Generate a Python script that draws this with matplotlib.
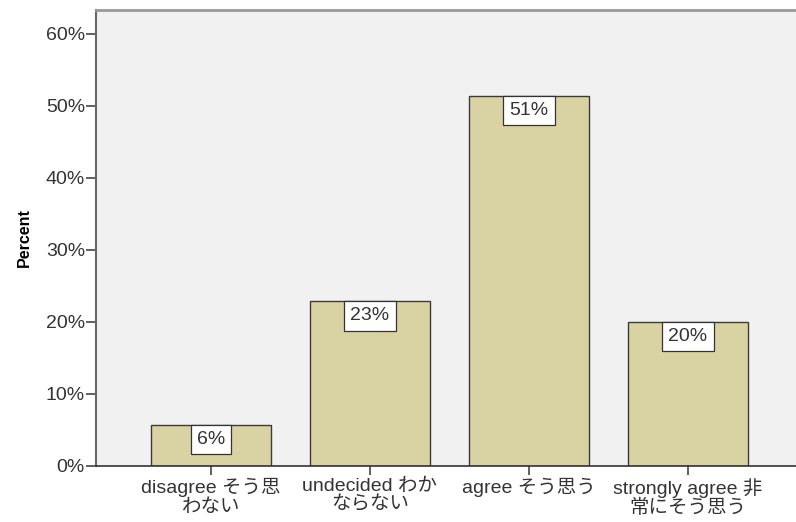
import matplotlib
matplotlib.use("Agg")
import matplotlib.pyplot as plt
from matplotlib.ticker import FuncFormatter, MultipleLocator

categories = ["disagree そう思\nわない", "undecided わか\nならない", "agree そう思う", "strongly agree 非\n常にそう思う"]
percents = [5.7, 22.9, 51.4, 20.0]
labels = ["6%", "23%", "51%", "20%"]

plt.rcParams['font.family'] = ['Liberation Sans', 'Noto Sans CJK JP', 'DejaVu Sans']

fig = plt.figure(figsize=(7.96, 5.22), dpi=100)
ax = fig.add_axes([96/796, 56/522, 700/796, 456/522])
ax.set_facecolor('#F1F1F1')

x = list(range(len(categories)))
bars = ax.bar(x, percents, width=0.75, color='#D9D3A3', edgecolor='#3a3a3a', linewidth=1.0, zorder=2)

for xi, v, lab in zip(x, percents, labels):
    ax.annotate(lab, (xi, v), xytext=(0, -4.5), textcoords='offset points',
                ha='center', va='top', fontsize=14, color='#333333',
                bbox=dict(boxstyle='square,pad=0.32', facecolor='white', edgecolor='#333333', linewidth=0.9),
                zorder=3)

ax.set_xlim(-0.723, 3.68)
ax.set_ylim(0, 63.3)
ax.yaxis.set_major_locator(MultipleLocator(10))
ax.yaxis.set_major_formatter(FuncFormatter(lambda v, p: f"{int(round(v))}%"))
ax.set_xticks(x)
ax.set_xticklabels(categories, fontsize=14, linespacing=1.12, color='#333333')
ax.tick_params(axis='y', labelsize=14, length=7, width=1.2, color='#444444', labelcolor='#333333', pad=1)
ax.tick_params(axis='x', length=6.5, width=1.2, color='#444444', pad=2)

ax.spines['left'].set_color('#666666')
ax.spines['left'].set_linewidth(1.5)
ax.spines['bottom'].set_color('#333333')
ax.spines['bottom'].set_linewidth(1.2)
ax.spines['top'].set_color('#999999')
ax.spines['top'].set_linewidth(2)
ax.spines['right'].set_visible(False)

ax.set_ylabel('Percent', fontsize=11.5, fontweight='bold', labelpad=10)

fig.savefig('out.png', dpi=100)
